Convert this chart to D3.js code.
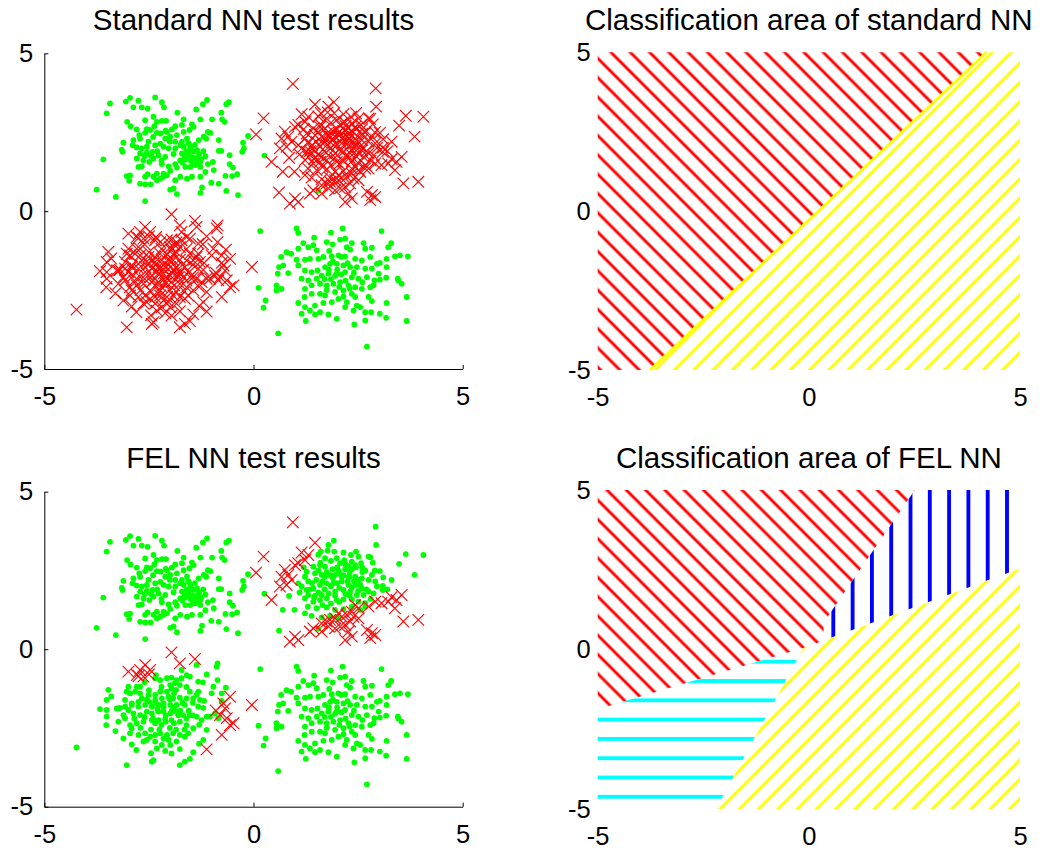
<!DOCTYPE html>
<html>
<head>
<meta charset="utf-8">
<script src="https://cdn.jsdelivr.net/npm/d3@7"></script>
<style>
body { margin: 0; background: #fff; }
text { font-family: "Liberation Sans", Arial, sans-serif; }
</style>
</head>
<body>
<div id="fig"></div>
<script>

var tickVals = [-5, 0, 5];

// cluster around (-2, 2): classified right by both nets
var clusterA = [[-3.43,3.41],[-3.51,3.10],[-3.05,3.47],[-2.95,3.59],[-2.75,3.50],[-2.87,3.29],[-2.67,3.29],[-2.53,3.25],[-2.35,3.60],[-2.19,3.45],[-2.14,3.29],[-1.82,3.12],[-1.37,3.22],[-1.21,3.39],[-1.11,3.52],[-0.65,3.39],[-0.59,3.45],[-0.77,3.12],[-0.75,2.91],[-0.69,2.83],[-0.99,2.91],[-1.27,2.91],[-1.47,2.75],[-1.67,2.91],[-1.71,2.73],[-3.02,2.83],[-2.94,2.69],[-2.79,2.59],[-2.59,2.88],[-2.39,2.99],[-2.31,2.83],[-2.19,2.86],[-2.09,2.86],[-2.37,2.69],[-1.95,2.59],[-1.87,2.69],[-2.73,2.41],[-2.87,2.25],[-3.11,2.17],[-3.15,1.95],[-3.13,1.88],[-2.71,2.30],[-2.59,2.48],[-2.47,2.57],[-2.31,2.48],[-2.22,2.46],[-2.07,2.51],[-1.99,2.36],[-2.11,2.30],[-1.83,2.41],[-1.67,2.51],[-1.53,2.57],[-1.43,2.67],[-1.59,2.30],[-1.71,2.20],[-1.87,2.20],[-1.31,2.25],[-1.19,2.36],[-1.09,2.51],[-1.03,2.48],[-1.13,2.30],[-0.83,2.25],[-0.83,1.91],[-0.77,1.91],[-2.89,2.09],[-2.79,2.02],[-2.67,1.99],[-2.55,2.04],[-2.51,2.20],[-2.35,2.09],[-2.23,2.14],[-2.15,2.04],[-2.03,1.99],[-1.87,1.99],[-1.75,2.09],[-1.67,2.04],[-1.51,2.04],[-1.43,1.88],[-1.35,1.93],[-1.59,1.77],[-1.71,1.83],[-1.91,1.81],[-2.11,1.72],[-2.27,1.77],[-2.41,1.88],[-2.55,1.85],[-2.71,1.83],[-2.79,1.67],[-2.63,1.61],[-2.49,1.56],[-2.39,1.67],[-2.19,1.49],[-2.03,1.42],[-1.87,1.49],[-1.75,1.61],[-1.63,1.64],[-1.51,1.61],[-1.37,1.67],[-1.27,1.56],[-1.15,1.74],[-1.09,1.49],[-0.97,1.56],[-1.27,1.40],[-1.39,1.46],[-1.51,1.40],[-1.63,1.40],[-1.83,1.38],[-1.99,1.28],[-2.15,1.19],[-2.31,1.19],[-2.39,1.09],[-2.53,1.17],[-2.75,1.40],[-2.67,1.42],[-3.03,1.11],[-2.95,1.13],[-2.97,0.96],[-2.59,1.09],[-2.31,0.98],[-2.23,1.03],[-2.15,1.09],[-2.07,1.14],[-1.87,0.98],[-1.75,1.09],[-1.59,1.03],[-1.47,1.09],[-1.27,1.09],[-1.15,1.24],[-0.95,1.30],[-0.67,1.12],[-0.51,1.11],[-0.39,1.17],[-0.57,1.49],[-0.49,1.38],[-0.57,1.77],[-0.27,1.88],[-0.23,1.99],[-0.13,2.38],[-0.25,2.17],[-1.01,0.90],[-0.83,0.87],[-0.65,0.64],[-0.37,0.51],[-1.23,0.75],[-1.27,0.58],[-1.83,0.54],[-1.91,0.72],[-1.99,0.68],[-2.71,0.87],[-2.59,0.85],[-2.46,0.85],[-3.59,1.64],[-3.75,0.68],[-3.29,0.45],[-2.59,0.32],
  [-1.60,1.90],[-1.55,1.80],[-1.45,1.70],[-1.40,1.60],[-1.30,1.80],[-1.50,1.95],[-1.65,1.70],[-1.20,1.90],[-1.35,1.55],[-1.45,1.50],[-1.25,1.65],[-1.70,1.55],[-1.55,2.15],[-1.40,2.10],[-2.30,1.90],[-2.45,1.75],[-2.20,1.60],[-2.60,1.75],[-2.00,2.20],[-2.10,2.55],[-2.40,2.35],[-2.55,2.60]];

// cluster around (2, -2): classified right by both nets
var clusterD = [[0.16,-0.63],[1.03,-0.55],[1.07,-0.69],[2.13,-0.55],[1.85,-0.68],[3.06,-0.63],[1.45,-0.84],[1.19,-1.01],[1.07,-1.19],[1.31,-1.14],[1.51,-1.24],[1.43,-1.08],[1.75,-0.98],[1.89,-1.05],[1.81,-1.26],[2.07,-0.90],[2.19,-0.87],[2.23,-1.14],[2.31,-1.22],[2.35,-1.01],[2.63,-1.01],[2.83,-1.16],[2.67,-1.19],[3.29,-1.01],[3.22,-1.14],[0.79,-1.30],[0.90,-1.35],[0.66,-1.45],[1.03,-1.54],[1.23,-1.54],[1.35,-1.51],[1.55,-1.51],[1.67,-1.45],[1.87,-1.43],[2.03,-1.40],[2.19,-1.43],[2.43,-1.51],[2.59,-1.56],[2.79,-1.45],[2.95,-1.67],[3.02,-1.64],[3.18,-1.51],[3.38,-1.43],[3.50,-1.40],[3.69,-1.43],[0.61,-1.77],[0.71,-1.72],[0.83,-1.96],[1.07,-1.72],[1.23,-1.88],[1.39,-1.93],[1.53,-1.88],[1.71,-1.77],[1.83,-1.67],[1.99,-1.67],[2.15,-1.72],[2.31,-1.77],[2.47,-1.77],[2.67,-1.82],[2.83,-1.82],[2.99,-1.98],[3.18,-1.77],[0.58,-1.98],[1.15,-2.14],[1.31,-2.19],[1.51,-2.14],[1.63,-2.04],[1.79,-1.98],[1.99,-1.98],[2.19,-1.93],[2.35,-2.09],[2.51,-2.14],[2.71,-2.09],[2.89,-2.19],[3.02,-2.17],[3.17,-2.11],[3.45,-2.14],[3.46,-2.19],[3.54,-2.30],[0.55,-2.35],[0.55,-2.51],[0.67,-2.46],[0.12,-2.43],[1.23,-2.46],[1.39,-2.35],[1.59,-2.30],[1.75,-2.35],[1.91,-2.30],[2.07,-2.25],[2.27,-2.35],[2.43,-2.41],[2.59,-2.46],[2.79,-2.41],[2.87,-2.35],[1.39,-2.62],[1.59,-2.62],[1.71,-2.67],[1.95,-2.56],[2.15,-2.51],[2.35,-2.62],[2.43,-2.72],[1.22,-2.72],[1.07,-2.91],[1.23,-3.04],[1.35,-3.15],[1.47,-2.99],[1.67,-2.91],[1.87,-2.88],[2.03,-2.78],[2.23,-2.88],[2.47,-2.99],[2.55,-3.04],[2.75,-2.72],[2.83,-2.85],[3.18,-2.91],[3.66,-2.72],[1.15,-3.25],[1.47,-3.27],[1.59,-3.20],[1.79,-3.27],[1.99,-3.41],[2.19,-3.04],[2.39,-3.15],[2.67,-3.20],[2.81,-3.20],[3.02,-3.25],[3.17,-3.38],[3.66,-3.48],[1.25,-3.48],[2.41,-3.59],[2.67,-3.46],[0.29,-2.83],[0.24,-3.06],[0.59,-3.87],[2.71,-4.29],
  [1.90,-1.60],[2.00,-1.85],[2.10,-2.00],[1.85,-2.15],[2.20,-2.20],[2.05,-2.40],[1.95,-2.05],[2.25,-1.65],[1.75,-2.50],[2.30,-2.45],[2.15,-2.70],[1.80,-1.85],[2.40,-1.95],[1.70,-2.15],[2.10,-1.45],[2.60,-2.25]];

// lone points that both nets got right
var strayGreen = [[0.26,1.76],[1.55,0.65]];

// cluster around (2, 2): wrong for standard NN, right for FEL NN
var clusterBFixed = [[2.92,3.89],[2.93,3.31],[3.64,3.02],[4.06,2.99],[3.48,2.71],[3.85,2.36],[1.92,3.45],[1.79,3.31],[1.61,3.10],[1.77,3.13],[1.93,3.10],[2.15,3.07],[2.33,2.99],[2.51,2.94],[2.75,2.94],[2.79,2.92],[1.71,2.89],[1.99,2.89],[2.17,2.83],[2.35,2.78],[2.07,2.73],[2.27,2.64],[2.43,2.67],[2.57,2.73],[1.43,2.62],[1.59,2.67],[1.71,2.62],[1.89,2.54],[2.03,2.49],[2.19,2.54],[2.35,2.54],[2.67,2.49],[2.83,2.36],[3.02,2.48],[3.10,2.28],[1.47,2.41],[1.63,2.36],[1.79,2.36],[1.95,2.36],[2.11,2.30],[2.27,2.30],[2.43,2.30],[2.59,2.25],[2.75,2.20],[2.91,2.15],[3.09,2.01],[3.09,1.88],[2.87,1.77],[1.27,2.46],[1.23,2.30],[1.31,2.15],[1.07,2.09],[1.15,1.99],[1.27,1.88],[1.43,1.93],[1.59,2.04],[1.75,2.09],[1.91,2.09],[2.11,2.15],[2.27,2.04],[2.43,2.04],[2.59,1.93],[2.75,1.83],[1.31,1.72],[1.47,1.69],[1.63,1.72],[1.79,1.77],[1.95,1.83],[2.15,1.88],[2.31,1.83],[2.47,1.72],[2.63,1.72],[1.23,1.62],[1.43,1.51],[1.59,1.56],[1.75,1.62],[1.99,1.56],[2.15,1.58],[2.35,1.58],[2.51,1.51],[2.67,1.46],[1.30,1.35],[1.51,1.30],[1.75,1.33],[1.95,1.25],[2.15,1.27],[2.35,1.35],[2.55,1.25],[1.23,1.14],[1.39,1.06],[1.63,1.01],[1.83,1.06],[2.03,0.98],[0.85,1.69],[0.98,1.25],[0.70,1.25],[0.61,0.59],[2.67,1.35],
  [2.00,2.10],[1.90,2.25],[2.15,2.35],[2.25,2.15],[2.05,1.95],[1.85,2.00],[2.40,2.15],[1.70,2.30],[2.30,2.45],
  [1.55,2.50],[1.75,2.45],[2.00,2.60],[2.20,2.70],[2.45,2.60],[2.60,2.45],[2.50,2.20],[2.35,1.95],[2.20,1.75],[1.95,1.70],[1.70,1.90],[1.55,1.80],[1.40,2.10],[1.50,2.20],[1.65,2.15],[1.85,2.35],[2.05,2.40],[2.30,2.30],[2.55,2.05],[2.70,1.90],[2.50,1.85],[2.30,1.70],[2.05,1.50],[1.85,1.45],[1.65,1.40],[1.45,1.65],[1.35,1.90],[1.60,2.75],[1.85,2.80],[2.60,2.60],[2.90,2.50],[2.95,2.00],[2.80,1.60],[1.10,1.80],[1.20,2.60],[1.55,3.00],[2.45,3.10],[2.85,2.75],[3.30,2.20],[3.20,1.90]];

// cluster around (2, 2): wrong for both nets
var clusterBMissed = [[0.94,4.03],[1.47,3.38],[0.24,2.94],[0.06,2.43],[1.15,3.07],[1.31,2.99],[1.23,2.83],[1.07,2.73],[0.99,2.67],[0.75,2.52],[0.83,2.36],[0.67,2.30],[0.91,2.20],[0.79,2.04],[0.63,1.99],[0.43,1.56],[3.54,1.72],[3.42,1.56],[3.30,1.65],[3.22,1.51],[2.91,1.51],[2.75,1.35],[2.43,1.40],[2.51,1.30],[2.35,1.19],[2.23,1.09],[2.11,1.03],[2.03,1.14],[1.95,0.98],[1.83,0.93],[1.75,0.88],[1.63,0.82],[2.39,1.03],[2.51,0.98],[2.31,0.88],[2.19,0.77],[2.07,0.72],[1.95,0.66],[1.79,0.72],[1.63,0.56],[1.43,0.66],[1.35,0.56],[0.99,0.40],[1.07,0.29],[0.87,0.24],[2.27,0.56],[2.35,0.40],[2.19,0.29],[2.71,0.61],[2.83,0.51],[2.91,0.45],[2.79,0.35],[3.58,0.88],[3.94,0.93],[3.06,1.46],[3.38,1.30]];

// cluster around (-2, -2): wrong for standard NN, right for FEL NN
var clusterCFixed = [[-1.36,-0.50],[-0.88,-0.55],[-0.86,-0.45],[-1.72,-0.66],[-1.60,-0.82],[-1.72,-0.92],[-1.52,-0.87],[-1.12,-0.80],[-2.07,-0.92],[-1.96,-0.90],[-1.84,-0.98],[-2.33,-0.82],[-2.35,-0.92],[-2.23,-0.98],[-1.32,-1.03],[-1.21,-1.05],[-0.86,-0.98],[-0.96,-1.19],[-1.99,-1.14],[-1.88,-1.08],[-1.76,-1.14],[-1.96,-1.24],[-1.85,-1.29],[-2.07,-1.35],[-2.23,-1.35],[-2.35,-1.45],[-2.51,-1.45],[-2.71,-1.40],[-2.83,-1.35],[-2.99,-1.19],[-2.79,-1.19],[-2.71,-1.19],[-3.03,-1.35],[-2.95,-1.40],[-3.47,-1.29],[-1.32,-1.35],[-1.36,-1.45],[-1.52,-1.35],[-1.60,-1.56],[-1.76,-1.54],[-1.92,-1.56],[-2.03,-1.51],[-2.19,-1.56],[-2.35,-1.61],[-2.49,-1.67],[-2.67,-1.56],[-2.75,-1.67],[-2.91,-1.72],[-3.07,-1.61],[-3.51,-1.61],[-3.27,-1.88],[-3.19,-1.86],[-3.07,-1.82],[-2.91,-1.77],[-2.75,-1.82],[-2.59,-1.77],[-2.43,-1.82],[-2.27,-1.77],[-2.15,-1.72],[-1.99,-1.77],[-1.84,-1.77],[-1.64,-1.77],[-1.44,-1.56],[-1.28,-1.61],[-1.18,-1.64],[-1.32,-1.82],[-1.20,-1.86],[-0.76,-1.40],[-0.66,-1.22],[-0.76,-1.64],[-1.12,-2.14],[-1.04,-2.14],[-0.92,-2.04],[-0.84,-2.19],[-1.24,-2.25],[-1.36,-2.14],[-1.52,-2.09],[-1.68,-2.09],[-1.84,-1.98],[-1.99,-2.04],[-2.15,-1.98],[-2.27,-1.98],[-2.43,-2.04],[-2.55,-1.98],[-2.71,-2.09],[-2.87,-2.04],[-2.99,-1.93],[-3.11,-2.09],[-3.23,-1.88],[-3.51,-1.93],[-3.51,-2.14],[-3.67,-1.90],[-3.52,-2.41],[-3.23,-2.30],[-3.07,-2.19],[-2.95,-2.41],[-2.79,-2.35],[-2.63,-2.30],[-2.43,-2.25],[-2.27,-2.25],[-2.11,-2.22],[-1.96,-2.25],[-1.76,-2.30],[-1.60,-2.41],[-1.44,-2.51],[-1.12,-2.56],[-1.56,-2.67],[-1.64,-2.78],[-1.76,-2.72],[-1.92,-2.67],[-2.07,-2.72],[-2.23,-2.67],[-2.35,-2.72],[-2.47,-2.78],[-2.59,-2.67],[-2.75,-2.72],[-2.91,-2.51],[-2.95,-2.67],[-2.55,-2.88],[-2.35,-2.93],[-2.15,-2.83],[-2.03,-2.88],[-1.84,-2.93],[-1.99,-3.04],[-2.19,-3.04],[-3.11,-2.83],[-2.91,-3.02],[-2.63,-2.93],[-1.20,-2.88],[-2.31,-3.15],[-2.11,-3.23],[-1.96,-3.31],[-1.76,-3.17],[-1.44,-3.27],[-2.39,-3.52],[-2.43,-3.57],[-1.76,-3.68],[-1.64,-3.57],[-1.52,-3.48],[-3.03,-3.68],[-4.23,-3.12],
  [-2.00,-1.60],[-1.90,-1.85],[-2.10,-2.10],[-2.30,-1.90],[-1.80,-2.10],[-2.20,-2.40],[-2.00,-2.50],[-1.70,-1.70],[-2.40,-2.20],[-1.60,-2.20],
  [-2.55,-1.60],[-2.35,-1.70],[-2.15,-1.85],[-1.95,-1.95],[-1.75,-1.95],[-1.55,-1.95],[-1.45,-2.10],[-1.90,-2.35],[-2.10,-2.30],[-2.35,-2.35],[-2.60,-2.15],[-2.85,-2.20],[-2.70,-2.50],[-2.45,-2.55],[-2.25,-2.55],[-1.85,-2.55],[-1.65,-2.55],[-2.50,-1.30],[-2.20,-1.20],[-1.60,-1.20],[-1.45,-1.70],[-1.30,-2.40],[-3.30,-2.60],[-3.40,-1.50],[-2.60,-1.05],[-1.00,-1.40],[-1.90,-1.40],[-2.45,-3.30],[-2.80,-3.20],[-1.30,-3.00]];

// cluster around (-2, -2): wrong for both nets
var clusterCMissed = [[-1.96,-0.10],[-1.40,-0.31],[-1.76,-0.45],[-2.59,-0.50],[-2.71,-0.66],[-2.99,-0.71],[-2.79,-0.82],[-2.47,-0.66],[-2.63,-0.87],[-2.75,-0.85],[-2.50,-0.80],[-0.56,-1.51],[-0.72,-1.72],[-0.68,-1.88],[-0.80,-2.09],[-0.64,-2.19],[-0.48,-2.35],[-0.56,-2.41],[-0.76,-2.72],[-1.12,-3.18],[-0.90,-1.95],[-0.04,-1.77]];

// classification regions (polygon corners in data units)
var stdRedArea = [[-5,5],[4.21,5],[-3.76,-5],[-5,-5]];
var stdYellowArea = [[4.21,5],[5,5],[5,-5],[-3.76,-5]];
var stdBorder = [[-3.76,-5],[4.21,5]];

var felRedArea = [[-5,5],[2.51,5],[0.35,0.85],[0.35,0.28],[-0.13,0.05],[-5,-1.87]];
var felBlueArea = [[2.51,5],[5,5],[5,2.54],[0.35,0.28],[0.35,0.85]];
var felCyanArea = [[-5,-1.87],[-0.13,0.05],[-2.2,-5],[-5,-5]];
var felYellowArea = [[-0.13,0.05],[5,2.54],[5,-5],[-2.2,-5]];

var W = 1041, H = 849;
var hatchGap = 19.3;

var svg = d3.select("#fig").append("svg")
    .attr("width", W)
    .attr("height", H)
    .style("background", "#fff");

var defs = svg.append("defs");

// hatch patterns; x0,y0 is a point one of the lines passes through
function addHatch(id, kind, color, lw, x0, y0) {
    var s = hatchGap;
    var d = s / Math.SQRT2;
    var pat = defs.append("pattern")
        .attr("id", id)
        .attr("patternUnits", "userSpaceOnUse");
    if (kind === "back" || kind === "fwd") {
        var rot = kind === "back" ? -45 : 45;
        pat.attr("width", d).attr("height", d)
            .attr("patternTransform", `translate(${x0 - s / 2},${y0}) rotate(${rot})`);
        pat.append("line")
            .attr("x1", d / 2).attr("y1", -1).attr("x2", d / 2).attr("y2", d + 1)
            .attr("stroke", color).attr("stroke-width", lw);
    } else if (kind === "vert") {
        pat.attr("width", s).attr("height", s)
            .attr("patternTransform", `translate(${x0 - s / 2},0)`);
        pat.append("line")
            .attr("x1", s / 2).attr("y1", -1).attr("x2", s / 2).attr("y2", s + 1)
            .attr("stroke", color).attr("stroke-width", lw)
            .attr("shape-rendering", "crispEdges");
    } else {
        pat.attr("width", s).attr("height", s)
            .attr("patternTransform", `translate(0,${y0 - s / 2})`);
        pat.append("line")
            .attr("x1", -1).attr("y1", s / 2).attr("x2", s + 1).attr("y2", s / 2)
            .attr("stroke", color).attr("stroke-width", lw)
            .attr("shape-rendering", "crispEdges");
    }
}

addHatch("stdRed", "back", "#ff0000", 2.9, 597.7, 58.3);
addHatch("stdYellow", "fwd", "#ffff00", 2.9, 655, 370);
addHatch("felRed", "back", "#ff0000", 2.9, 597.7, 500);
addHatch("felYellow", "fwd", "#ffff00", 2.9, 720, 809);
addHatch("felBlue", "vert", "#0000ff", 4, 833.3, 0);
addHatch("felCyan", "horiz", "#00ffff", 4, 0, 661.7);

function makeScales(p) {
    var x = d3.scaleLinear().domain([-5, 5]).range([p.left, p.right]);
    var y = d3.scaleLinear().domain([-5, 5]).range([p.bottom, p.top]);
    return { x: x, y: y };
}

function addTitle(p, label) {
    svg.append("text")
        .attr("x", (p.left + p.right) / 2)
        .attr("y", p.titleY)
        .attr("text-anchor", "middle")
        .style("font-size", "29.5px")
        .attr("fill", "#000")
        .text(label);
}

// plain hyphen for negatives, like the original figure
var tickText = d => String(d);

function addAxes(p, sc, showLines) {
    var xAxis = d3.axisBottom(sc.x).tickValues(tickVals).tickSize(-4)
        .tickSizeOuter(0).tickPadding(18).tickFormat(tickText);
    var yAxis = d3.axisLeft(sc.y).tickValues(tickVals).tickSize(-4)
        .tickSizeOuter(0).tickPadding(p.yPad).tickFormat(tickText);

    var gx = svg.append("g")
        .attr("transform", `translate(0,${p.bottom})`)
        .call(xAxis);
    var gy = svg.append("g")
        .attr("transform", `translate(${p.left},0)`)
        .call(yAxis);

    [gx, gy].forEach(function (g) {
        g.selectAll("text")
            .style("font-size", "25.5px")
            .style("font-family", '"Liberation Sans", Arial, sans-serif')
            .attr("fill", "#000");
        if (showLines) {
            g.select(".domain").attr("stroke", "#000").attr("stroke-width", 1);
            g.selectAll(".tick line").attr("stroke", "#000");
        } else {
            g.select(".domain").remove();
            g.selectAll(".tick line").remove();
        }
    });
}

var xMark = "M-5.8,-5.8L5.8,5.8M-5.8,5.8L5.8,-5.8";

function scatterPanel(p, label, greens, reds) {
    var sc = makeScales(p);
    addTitle(p, label);

    var g = svg.append("g");
    g.selectAll("circle")
        .data(greens)
        .enter()
        .append("circle")
        .attr("cx", d => sc.x(d[0]))
        .attr("cy", d => sc.y(d[1]))
        .attr("r", 2.9)
        .attr("fill", "#00ff00");

    g.selectAll("path.miss")
        .data(reds)
        .enter()
        .append("path")
        .attr("class", "miss")
        .attr("d", xMark)
        .attr("transform", d => `translate(${sc.x(d[0])},${sc.y(d[1])})`)
        .attr("fill", "none")
        .attr("stroke", "#ff0000")
        .attr("stroke-width", 1.1);

    addAxes(p, sc, true);
}

function areaPanel(p, label, regions, border) {
    var sc = makeScales(p);
    addTitle(p, label);

    var line = d3.line().x(d => sc.x(d[0])).y(d => sc.y(d[1]));
    svg.append("g").selectAll("path")
        .data(regions)
        .enter()
        .append("path")
        .attr("d", d => line(d.pts) + "Z")
        .attr("fill", d => `url(#${d.hatch})`)
        .attr("stroke", "none");

    if (border) {
        svg.append("path")
            .attr("d", line(border.pts))
            .attr("stroke", border.color)
            .attr("stroke-width", 2.9)
            .attr("fill", "none");
    }

    addAxes(p, sc, false);
}

var panelTL = { left: 44.3, right: 462.7, top: 53.3, bottom: 369, titleY: 30, yPad: 11 };
var panelTR = { left: 597.7, right: 1020, top: 52.3, bottom: 370, titleY: 30, yPad: 7 };
var panelBL = { left: 44.3, right: 462.7, top: 491.7, bottom: 806.7, titleY: 467.5, yPad: 11 };
var panelBR = { left: 597.7, right: 1020, top: 490, bottom: 809, titleY: 467.5, yPad: 7 };

scatterPanel(panelTL, "Standard NN test results",
    clusterA.concat(clusterD, strayGreen),
    clusterBFixed.concat(clusterBMissed, clusterCFixed, clusterCMissed));

areaPanel(panelTR, "Classification area of standard NN", [
    { pts: stdRedArea, hatch: "stdRed" },
    { pts: stdYellowArea, hatch: "stdYellow" }
], { pts: stdBorder, color: "#ffff00" });

scatterPanel(panelBL, "FEL NN test results",
    clusterA.concat(clusterD, strayGreen, clusterBFixed, clusterCFixed),
    clusterBMissed.concat(clusterCMissed));

areaPanel(panelBR, "Classification area of FEL NN", [
    { pts: felRedArea, hatch: "felRed" },
    { pts: felBlueArea, hatch: "felBlue" },
    { pts: felCyanArea, hatch: "felCyan" },
    { pts: felYellowArea, hatch: "felYellow" }
], null);

</script>
</body>
</html>
